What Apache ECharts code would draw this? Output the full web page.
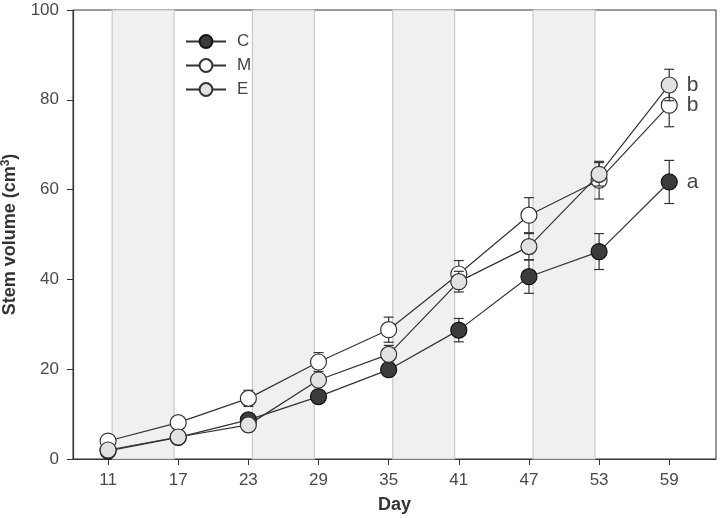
<!DOCTYPE html>
<html>
<head>
<meta charset="utf-8">
<script src="https://cdn.jsdelivr.net/npm/echarts@6/dist/echarts.min.js"></script>
<style>
  html, body { margin: 0; padding: 0; background: #fff; }
  #chart { width: 720px; height: 518px; }
</style>
</head>
<body>
<div id="chart"></div>
<script>
// sampling days
const days = [11, 17, 23, 29, 35, 41, 47, 53, 59];
// shaded periods (day ranges)
const bandDays = [[11, 17], [23, 29], [35, 41], [47, 53]];

// stem volume (cm3) per treatment
const valuesC = [1.8, 4.8, 8.7, 13.9, 19.9, 28.7, 40.6, 46.2, 61.7];
const valuesM = [4.0, 8.1, 13.5, 21.6, 28.8, 41.2, 54.3, 62.1, 78.8];
const valuesE = [2.0, 4.9, 7.6, 17.6, 23.3, 39.5, 47.3, 63.4, 83.3];

// standard errors
const errC = [0.5, 0.6, 0.8, 1.2, 1.5, 2.6, 3.7, 4.0, 4.8];
const errM = [0.6, 0.7, 1.8, 2.1, 2.8, 3.0, 3.9, 4.2, 4.8];
const errE = [0.5, 0.6, 0.7, 1.0, 2.0, 2.3, 2.9, 2.6, 3.5];

// significance letters on the last day
const letters = { C: 'a', M: 'b', E: 'b' };

const chart = echarts.init(document.getElementById('chart'));

const FONT = 'Liberation Sans, Arial, sans-serif';
const INK = '#333';

function lineData(vals, letter) {
    return vals.map((v, i) => {
        const item = { value: [days[i], v] };
        if (i === vals.length - 1) {
            item.label = {
                show: true,
                formatter: letter,
                position: 'right',
                distance: 9,
                fontSize: 21,
                fontFamily: FONT,
                color: '#444'
            };
        }
        return item;
    });
}

function errData(vals, errs) {
    return vals.map((v, i) => [days[i], v, errs[i]]);
}

function renderError(params, api) {
    const x = api.value(0);
    const y = api.value(1);
    const e = api.value(2);
    const hi = api.coord([x, y + e]);
    const lo = api.coord([x, y - e]);
    const w = 5;
    const style = { stroke: INK, lineWidth: 1.2 };
    return {
        type: 'group',
        children: [
            { type: 'line', shape: { x1: hi[0], y1: hi[1], x2: lo[0], y2: lo[1] }, style: style },
            { type: 'line', shape: { x1: hi[0] - w, y1: hi[1], x2: hi[0] + w, y2: hi[1] }, style: style },
            { type: 'line', shape: { x1: lo[0] - w, y1: lo[1], x2: lo[0] + w, y2: lo[1] }, style: style }
        ]
    };
}

function errSeries(name, vals, errs, z) {
    return {
        name: name + ' err',
        type: 'custom',
        z: z,
        renderItem: renderError,
        encode: { x: 0, y: 1 },
        data: errData(vals, errs),
        silent: true
    };
}

function lineSeries(name, vals, fill, border, z) {
    return {
        name: name,
        type: 'line',
        z: z,
        symbol: 'circle',
        symbolSize: 16,
        showAllSymbol: true,
        lineStyle: { color: INK, width: 1.2 },
        itemStyle: { color: fill, borderColor: border, borderWidth: 1.2 },
        data: lineData(vals, letters[name])
    };
}

const inset = 0.35;

const option = {
    animation: false,
    textStyle: { fontFamily: FONT },
    grid: {
        left: 73,
        right: 4,
        top: 10,
        bottom: 59,
        containLabel: false,
        outerBoundsMode: 'none',
        show: true,
        borderColor: INK,
        borderWidth: 1,
        backgroundColor: 'transparent'
    },
    legend: {
        data: ['C', 'M', 'E'],
        orient: 'vertical',
        left: 180,
        top: 28,
        itemWidth: 40,
        itemHeight: 16,
        itemGap: 7,
        formatter: name => '{t|' + name + '}',
        textStyle: {
            fontSize: 17, color: '#444', fontFamily: FONT,
            rich: { t: { fontSize: 17, color: '#444', fontFamily: FONT, padding: [0, 0, 0, 6] } }
        }
    },
    xAxis: {
        type: 'value',
        min: 8,
        max: 63,
        name: 'Day',
        nameLocation: 'middle',
        nameGap: 37,
        nameTextStyle: { fontSize: 18, fontWeight: 'bold', color: INK, fontFamily: FONT },
        axisLine: { show: true, lineStyle: { color: INK, width: 1.2 } },
        axisTick: { show: true, length: 6, customValues: days, lineStyle: { color: INK } },
        axisLabel: { customValues: days, fontSize: 17, color: '#4a4a4a', margin: 13, fontFamily: FONT },
        splitLine: { show: false }
    },
    yAxis: {
        type: 'value',
        min: 0,
        max: 100,
        interval: 20,
        name: '{a|Stem volume (cm}{s|3}{a|)}',
        nameLocation: 'middle',
        nameGap: 53,
        nameTextStyle: {
            rich: {
                a: { fontSize: 18, fontWeight: 'bold', color: INK, fontFamily: FONT },
                s: { fontSize: 12, fontWeight: 'bold', color: INK, fontFamily: FONT, verticalAlign: 'top', padding: [0, 0, 8, 0] }
            }
        },
        axisLine: { show: true, lineStyle: { color: INK, width: 1.2 } },
        axisTick: { show: true, length: 6, lineStyle: { color: INK } },
        axisLabel: { fontSize: 17, color: '#4a4a4a', margin: 14, fontFamily: FONT },
        splitLine: { show: false }
    },
    series: [
        {
            name: 'bands',
            type: 'line',
            data: [],
            z: 1,
            markArea: {
                silent: true,
                itemStyle: { color: '#f0f0f0', borderColor: '#c9c9c9', borderWidth: 1.2 },
                data: bandDays.map(b => [{ xAxis: b[0] + inset, yAxis: 0 }, { xAxis: b[1] - inset, yAxis: 100 }])
            }
        },
        errSeries('C', valuesC, errC, 2),
        lineSeries('C', valuesC, '#3c3c3c', '#111', 3),
        errSeries('M', valuesM, errM, 4),
        lineSeries('M', valuesM, '#ffffff', INK, 5),
        errSeries('E', valuesE, errE, 6),
        lineSeries('E', valuesE, '#e2e2e2', INK, 7)
    ]
};

chart.setOption(option);
</script>
</body>
</html>
